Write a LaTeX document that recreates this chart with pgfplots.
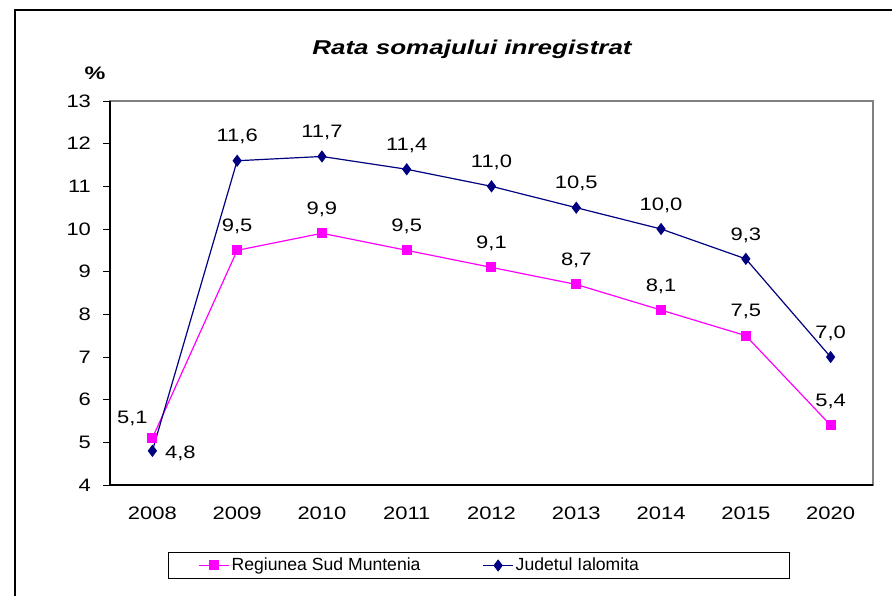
\documentclass[border=0pt]{standalone}
\usepackage{pgfplots}
\pgfplotsset{compat=1.18}
\usepackage{pgfplotstable}
\usepackage{fontspec}
\setmainfont{Liberation Sans}
\newfontfamily\wide{Liberation Sans}[FakeStretch=1.22]
\newfontfamily\wider{Liberation Sans}[FakeStretch=1.3]
\definecolor{regc}{RGB}{255,0,255}
\definecolor{judc}{RGB}{0,0,128}
\pgfplotstableread{
x y lab
1 5.1 {}
2 9.5 9,5
3 9.9 9,9
4 9.5 9,5
5 9.1 9,1
6 8.7 8,7
7 8.1 8,1
8 7.5 7,5
9 5.4 5,4
}\reg
\pgfplotstableread{
x y lab
1 4.8 {}
2 11.6 11,6
3 11.7 11,7
4 11.4 11,4
5 11.0 11,0
6 10.5 10,5
7 10.0 10,0
8 9.3 9,3
9 7.0 7,0
}\jud
\begin{document}
\begin{tikzpicture}[x=1pt,y=1pt]
\useasboundingbox (0,0) rectangle (446,297.5);
\draw[line width=1pt] (7.5,-10) -- (7.5,292.5) -- (470,292.5);
\node[font=\fontsize{10}{12}\selectfont\wider\bfseries\itshape] at (236,273) {Rata somajului inregistrat};
\node[font=\fontsize{9}{11}\selectfont\wider\bfseries] at (47.5,261) {\%};
\begin{axis}[at={(55pt,55pt)}, anchor=south west, scale only axis,
  width=381.5pt, height=192pt,
  xmin=0.5, xmax=9.5, ymin=4, ymax=13,
  ytick={4,...,13},
  xtick={1,...,9},
  xticklabels={2008,2009,2010,2011,2012,2013,2014,2015,2020},
  xtick style={draw=none},
  ytick style={black},
  xtick pos=bottom, ytick pos=left,
  tick align=outside, major tick length=3.5pt,
  axis line style={draw=gray, line width=0.6pt},
  tick label style={font=\fontsize{9}{11}\selectfont\wide},
  /pgf/number format/assume math mode=true,
  xticklabel style={yshift=-4pt},
  yticklabel style={xshift=-2.5pt},
  clip=false,
  point meta=explicit symbolic,
  nodes near coords,
  nodes near coords style={anchor=center, yshift=12pt, font=\fontsize{9}{11}\selectfont\wide, text=black},
  legend columns=2,
  legend style={at={(axis description cs:0.076,-0.2096)}, anchor=west, draw=black, line width=0.5pt,
    font=\fontsize{8.8}{11}\selectfont, inner xsep=15pt, inner ysep=1.5pt, nodes={inner sep=1pt},
    /tikz/every even column/.append style={column sep=30pt}},
  legend image code/.code={\draw[mark repeat=2,mark phase=2] plot coordinates {(0pt,0pt) (7.5pt,0pt) (15pt,0pt)};},
]
\draw[black, line width=0.7pt] (rel axis cs:0,1) -- (rel axis cs:0,0) -- (rel axis cs:1,0);
\pgfplotsinvokeforeach{0.5,1.5,2.5,3.5,4.5,5.5,6.5,7.5,8.5,9.5}{
  \draw[black, line width=0.6pt] (axis cs:#1,4) ++(0,3pt) -- ++(0,-6.5pt);
}
\addplot[regc, line width=0.6pt, mark=square*, mark size=2.2pt, mark options={fill=regc, draw=regc}] table[x=x,y=y,meta=lab] {\reg};
\addlegendentry{Regiunea Sud Muntenia}
\addplot[judc, line width=0.6pt, mark=diamond*, mark size=2.6pt, mark options={fill=judc, draw=judc}] table[x=x,y=y,meta=lab] {\jud};
\addlegendentry{Judetul Ialomita\rule{59pt}{0pt}}
\node[font=\fontsize{9}{11}\selectfont\wide] at (axis cs:1,5.1) [xshift=-10pt, yshift=10pt] {5,1};
\node[font=\fontsize{9}{11}\selectfont\wide] at (axis cs:1,4.8) [xshift=14pt, yshift=-1pt] {4,8};
\end{axis}
\end{tikzpicture}
\end{document}
